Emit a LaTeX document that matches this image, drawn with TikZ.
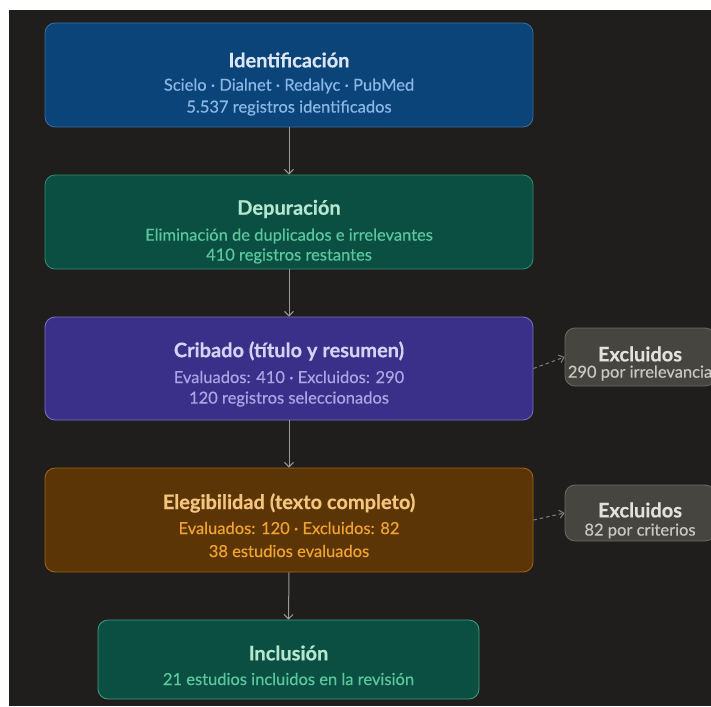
\documentclass[tikz,border=0pt]{standalone}
\usepackage{fontspec}
\setmainfont{Lato}
\newfontfamily\subfont[FakeBold=0.4]{Lato}
\usetikzlibrary{arrows.meta}
\definecolor{bgc}{HTML}{1F1E1C}
\definecolor{idfill}{HTML}{0B4478}\definecolor{iddraw}{HTML}{3B6E9E}
\definecolor{idtit}{HTML}{DCE6F2}\definecolor{idsub}{HTML}{8AB8E6}
\definecolor{dpfill}{HTML}{0A4F42}\definecolor{dpdraw}{HTML}{2F8F6F}
\definecolor{dptit}{HTML}{B5E6CF}\definecolor{dpsub}{HTML}{5BC79E}
\definecolor{crfill}{HTML}{3B3089}\definecolor{crdraw}{HTML}{7B72C4}
\definecolor{crtit}{HTML}{D6D2F2}\definecolor{crsub}{HTML}{ABA5E3}
\definecolor{elfill}{HTML}{5C3506}\definecolor{eldraw}{HTML}{A4670F}
\definecolor{eltit}{HTML}{F4C57E}\definecolor{elsub}{HTML}{F0A232}
\definecolor{infill}{HTML}{0A4F42}\definecolor{indraw}{HTML}{3DA37C}
\definecolor{exfill}{HTML}{464540}\definecolor{exdraw}{HTML}{6B6A64}
\definecolor{extit}{HTML}{E2E1DA}\definecolor{exsub}{HTML}{C9C8C0}
\definecolor{arrc}{HTML}{9C9A95}
\tikzset{
  box/.style={rounded corners=10pt, line width=0.8pt, inner sep=0pt},
  tit/.style={font=\fontsize{20}{22}\selectfont\bfseries\addfontfeature{FakeBold=0.5}, inner sep=0pt},
  sub/.style={font=\subfont\fontsize{16.5}{19}\selectfont, inner sep=0pt},
  flow/.style={draw=arrc, line width=1pt, -{Straight Barb[length=4.5pt,width=9pt]}},
  side/.style={draw=arrc!80!bgc, line width=1pt, dashed, dash pattern=on 3.5pt off 3pt, -{Straight Barb[length=4.5pt,width=8pt]}},
}
\begin{document}
\begin{tikzpicture}[x=1pt,y=-1pt]
\useasboundingbox (0,0) rectangle (711,706);
\fill[white] (0,0) rectangle (711,706);
\begin{scope}
\clip (9,10) rectangle (711,706);
\fill[bgc] (9,10) rectangle (711,706);
% boxes
\node[box, fill=idfill, draw=iddraw, minimum width=488pt, minimum height=104pt] (ident) at (289,75) {};
\node[box, fill=dpfill, draw=dpdraw, minimum width=488pt, minimum height=94pt] (depur) at (289,222) {};
\node[box, fill=crfill, draw=crdraw, minimum width=488pt, minimum height=103pt] (crib) at (289,368.5) {};
\node[box, fill=elfill, draw=eldraw, minimum width=488pt, minimum height=104pt] (eleg) at (289,520) {};
\node[box, fill=infill, draw=indraw, minimum width=381pt, minimum height=79pt] (incl) at (288.5,659.5) {};
\node[box, fill=exfill, draw=exdraw, minimum width=150pt, minimum height=58pt] (exa) at (640,357) {};
\node[box, fill=exfill, draw=exdraw, minimum width=150pt, minimum height=56pt] (exb) at (640,513) {};
% texts
\node[tit, text=idtit] (identt) at (289,60) {Identificación};
\node[sub, text=idsub] (idents1) at (289,86) {Scielo · Dialnet · Redalyc · PubMed};
\node[sub, text=idsub] (idents2) at (289,108) {5.537 registros identificados};
\node[tit, text=dptit] (depurt) at (289,209) {Depuración};
\node[sub, text=dpsub] (depurs1) at (289,236) {Eliminación de duplicados e irrelevantes};
\node[sub, text=dpsub] (depurs2) at (289,256) {410 registros restantes};
\node[tit, text=crtit] (cribt) at (289,351) {Cribado (título y resumen)};
\node[sub, text=crsub] (cribs1) at (289,377) {Evaluados: 410 · Excluidos: 290};
\node[sub, text=crsub] (cribs2) at (289,399) {120 registros seleccionados};
\node[tit, text=eltit] (elegt) at (289,503) {Elegibilidad (texto completo)};
\node[sub, text=elsub] (elegs1) at (289,528) {Evaluados: 120 · Excluidos: 82};
\node[sub, text=elsub] (elegs2) at (289,551) {38 estudios evaluados};
\node[tit, text=dptit] (inclt) at (288.5,653) {Inclusión};
\node[sub, text=dpsub] (incls) at (288.5,679) {21 estudios incluidos en la revisión};
\node[tit, text=extit] (exat) at (640,354) {Excluidos};
\node[sub, text=exsub] (exas) at (640,373) {290 por irrelevancia};
\node[tit, text=extit] (exbt) at (640,510) {Excluidos};
\node[sub, text=exsub] (exbs) at (640,531) {82 por criterios};
% connectors
\draw[flow] (ident.south) -- (depur.north);
\draw[flow] (depur.south) -- (crib.north);
\draw[flow] (crib.south) -- (eleg.north);
\draw[flow] (eleg.south) -- (incl.north);
\draw[side] (crib.east) -- (exa.west);
\draw[side] (eleg.east) -- (exb.west);
\end{scope}
\end{tikzpicture}
\end{document}
